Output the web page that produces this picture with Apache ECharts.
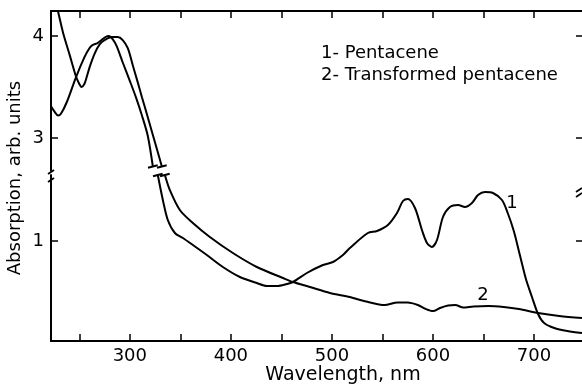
<!DOCTYPE html>
<html><head><meta charset="utf-8">
<script src="https://cdn.jsdelivr.net/npm/echarts@6/dist/echarts.min.js"></script>
<style>html,body{margin:0;padding:0;background:#fff}#c{width:582px;height:387px}</style>
</head><body><div id="c"></div>
<script>
// ---- data (wavelength in nm, absorption in arb. units) ----
const seriesNames = ['1- Pentacene', '2- Transformed pentacene'];
const xTicks = [250, 300, 350, 400, 450, 500, 550, 600, 650, 700];
const xLabels = [300, 400, 500, 600, 700];
const yTicksUpper = [3, 4];
const yTicksLower = [1];

// Curve 1 (Pentacene), part above the axis break
const p1UpX = [222, 226, 229, 232, 238, 246.5, 255, 260, 263, 268, 272, 276, 279, 283, 287, 293, 300, 306, 312, 317.8, 322.8];
const p1UpY = [3.31, 3.25, 3.22, 3.24, 3.36, 3.59, 3.79, 3.88, 3.91, 3.93, 3.96, 3.99, 4.00, 3.97, 3.90, 3.74, 3.56, 3.40, 3.22, 3.02, 2.72];
// Curve 1 (Pentacene), part below the axis break
const p1LoX = [327.7, 332.7, 337.6, 344.6, 352.5, 362.4, 376.2, 392.1, 408.9, 425.7, 435.6, 445.5, 455.4, 461.4, 475.2, 491.1, 501, 510.9, 517.8, 535.6, 544.6, 555.4, 564.4, 570.3, 575.2, 582.2, 589.1, 594.1, 599, 604, 609.9, 616.8, 624.8, 631.7, 638.6, 644.6, 651.5, 659.4, 668.3, 674, 680, 686, 692, 698, 704, 710, 720, 733, 747.5];
const p1LoY = [1.66, 1.41, 1.21, 1.08, 1.03, 0.96, 0.86, 0.74, 0.64, 0.58, 0.55, 0.55, 0.57, 0.59, 0.68, 0.76, 0.79, 0.86, 0.93, 1.08, 1.10, 1.16, 1.28, 1.40, 1.42, 1.33, 1.11, 0.98, 0.94, 1.01, 1.24, 1.34, 1.36, 1.34, 1.38, 1.46, 1.49, 1.48, 1.41, 1.28, 1.10, 0.86, 0.62, 0.44, 0.27, 0.18, 0.13, 0.10, 0.08];

// Curve 2 (Transformed pentacene), above the break
const p2UpX = [222, 228.7, 234, 240.6, 246.5, 250, 252.3, 255, 257.1, 260.4, 265.3, 270.3, 275, 282, 288, 293, 298, 303, 308, 312, 317, 322.8, 331.7];
const p2UpY = [4.50, 4.25, 4.03, 3.81, 3.61, 3.53, 3.50, 3.53, 3.59, 3.70, 3.83, 3.92, 3.96, 3.99, 3.99, 3.96, 3.88, 3.71, 3.54, 3.40, 3.23, 3.03, 2.72];
// Curve 2 (Transformed pentacene), below the break
const p2LoX = [334.7, 339.6, 349.5, 362.4, 379.2, 402, 425.7, 451.5, 461.4, 478.2, 498, 517.8, 528, 540, 552, 565, 575, 585, 593, 600, 607, 615, 622, 630, 640, 655, 670, 685, 704, 725, 747.5];
const p2LoY = [1.66, 1.51, 1.31, 1.18, 1.04, 0.88, 0.74, 0.63, 0.59, 0.54, 0.48, 0.44, 0.41, 0.38, 0.36, 0.385, 0.385, 0.36, 0.32, 0.30, 0.33, 0.355, 0.36, 0.335, 0.345, 0.35, 0.34, 0.32, 0.28, 0.25, 0.23];

// ---- chart ----
const FONT = 'DejaVu Sans';
const chart = echarts.init(document.getElementById('c'), null, {renderer: 'canvas'});

function toData(xs, ys, markIdx) {
  return xs.map((x, i) => i === markIdx
    ? {value: [x, ys[i]], symbol: 'rect', symbolSize: [10, 2], symbolRotate: 15, itemStyle: {color: '#000'}}
    : [x, ys[i]]);
}
function line(name, xi, yi, data) {
  return {
    name, type: 'line', xAxisIndex: xi, yAxisIndex: yi, data,
    symbol: 'none', smooth: 0.3, clip: true, animation: false,
    lineStyle: {color: '#000', width: 2}, itemStyle: {color: '#000'}, z: 3
  };
}
const axisLine = {show: true, lineStyle: {color: '#000', width: 2}};
const tickStyle = {color: '#000', width: 1.5};
const UP_MIN = 2.676, UP_MAX = 4.245, LO_MIN = 0, LO_MAX = 1.66, X_MIN = 222, X_MAX = 747.5;

const option = {
  animation: false,
  backgroundColor: '#fff',
  textStyle: {fontFamily: FONT, color: '#000'},
  title: {
    text: seriesNames.join('\n'),
    left: 321, top: 42, padding: 0,
    textStyle: {fontFamily: FONT, fontSize: 18, fontWeight: 'normal', color: '#000', lineHeight: 22}
  },
  grid: [
    {left: 51, right: 0, top: 11, height: 160},
    {left: 51, right: 0, top: 175, height: 166}
  ],
  xAxis: [
    {type: 'value', gridIndex: 0, position: 'top', min: X_MIN, max: X_MAX,
     axisLine, splitLine: {show: false},
     axisTick: {show: true, inside: true, length: 7, customValues: xTicks, lineStyle: tickStyle},
     axisLabel: {show: false}},
    {type: 'value', gridIndex: 1, position: 'bottom', min: X_MIN, max: X_MAX,
     axisLine, splitLine: {show: false},
     axisTick: {show: true, inside: true, length: 7, customValues: xTicks, lineStyle: tickStyle},
     axisLabel: {show: true, customValues: xLabels, margin: 6, fontSize: 18, fontFamily: FONT, color: '#000'},
     name: 'Wavelength, nm', nameLocation: 'middle', nameGap: 24,
     nameTextStyle: {fontSize: 19, fontFamily: FONT, color: '#000', padding: [0, 0, 0, 53]}}
  ],
  yAxis: [
    {type: 'value', gridIndex: 0, position: 'left', min: UP_MIN, max: UP_MAX,
     axisLine, splitLine: {show: false},
     axisTick: {show: true, inside: true, length: 7, customValues: yTicksUpper, lineStyle: tickStyle},
     axisLabel: {show: true, customValues: yTicksUpper, margin: 7, fontSize: 18, fontFamily: FONT, color: '#000'}},
    {type: 'value', gridIndex: 0, position: 'right', min: UP_MIN, max: UP_MAX,
     axisLine: {show: false}, splitLine: {show: false},
     axisTick: {show: true, inside: true, length: 6, customValues: yTicksUpper, lineStyle: tickStyle},
     axisLabel: {show: false}},
    {type: 'value', gridIndex: 1, position: 'left', min: LO_MIN, max: LO_MAX,
     axisLine, splitLine: {show: false},
     axisTick: {show: true, inside: true, length: 7, customValues: yTicksLower, lineStyle: tickStyle},
     axisLabel: {show: true, customValues: yTicksLower, margin: 7, fontSize: 18, fontFamily: FONT, color: '#000'}},
    {type: 'value', gridIndex: 1, position: 'right', min: LO_MIN, max: LO_MAX,
     axisLine: {show: false}, splitLine: {show: false},
     axisTick: {show: true, inside: true, length: 6, customValues: yTicksLower, lineStyle: tickStyle},
     axisLabel: {show: false}}
  ],
  series: [
    line(seriesNames[0], 0, 0, toData(p1UpX, p1UpY, p1UpX.length - 1)),
    line(seriesNames[0], 1, 2, toData(p1LoX, p1LoY, 0)),
    line(seriesNames[1], 0, 0, toData(p2UpX, p2UpY, p2UpX.length - 1)),
    line(seriesNames[1], 1, 2, toData(p2LoX, p2LoY, 0))
  ]
};
chart.setOption(option);

// axis-break strokes and annotations, positioned from the axes themselves
const xLeft = chart.convertToPixel({xAxisIndex: 1}, X_MIN);
const xRight = chart.convertToPixel({xAxisIndex: 1}, X_MAX);
const yUpEnd = chart.convertToPixel({yAxisIndex: 0}, UP_MIN);
const yLoEnd = chart.convertToPixel({yAxisIndex: 2}, LO_MAX);
function slash(x, y) {
  return {type: 'line', shape: {x1: x - 3, y1: y + 2, x2: x + 3, y2: y - 2},
          style: {stroke: '#000', lineWidth: 1.8}, z: 10};
}
const yAxisMid = (chart.convertToPixel({yAxisIndex: 0}, UP_MAX) + chart.convertToPixel({yAxisIndex: 2}, LO_MIN)) / 2;
chart.setOption({
  graphic: [
    slash(xLeft, yUpEnd + 1), slash(xLeft, yLoEnd + 5),
    slash(xRight - 3, yUpEnd + 19), slash(xRight - 3, yLoEnd + 20),
    {type: 'text', x: 15.5, y: yAxisMid + 2, rotation: Math.PI / 2,
     style: {text: 'Absorption, arb. units', font: '18px "DejaVu Sans"', fill: '#000', align: 'center', verticalAlign: 'middle'}},
    {type: 'text', x: 512, y: 203,
     style: {text: '1', font: '18px "DejaVu Sans"', fill: '#000', align: 'center', verticalAlign: 'middle'}},
    {type: 'text', x: 483, y: 295,
     style: {text: '2', font: '18px "DejaVu Sans"', fill: '#000', align: 'center', verticalAlign: 'middle'}}
  ]
});
</script>
</body></html>
